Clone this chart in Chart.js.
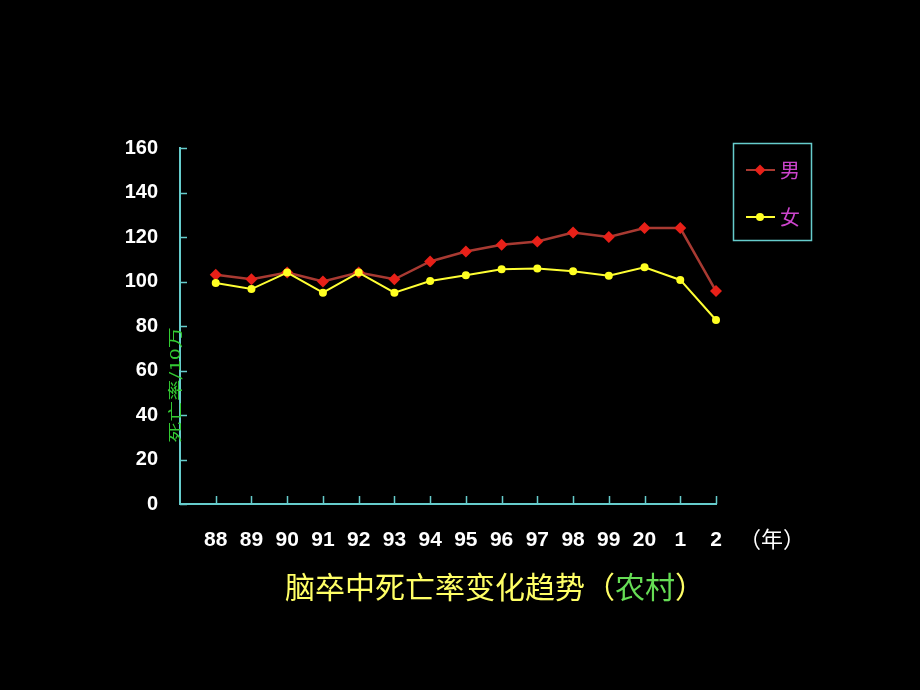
<!DOCTYPE html>
<html>
<head>
<meta charset="utf-8">
<script src="https://cdn.jsdelivr.net/npm/chart.js@4"></script>
<style>
    html, body { margin: 0; padding: 0; background: #000; }
    #wrap { position: relative; width: 920px; height: 690px; }
    #title {
        position: absolute; left: 0; width: 990px; top: 563px; text-align: center;
        font-family: "Noto Sans CJK SC", sans-serif; font-size: 30px; color: #ffff66;
    }
    #title span { color: #66dd55; }
</style>
</head>
<body>
<div id="wrap">
    <canvas id="myChart" width="920" height="690"></canvas>
    <div id="title">脑卒中死亡率变化趋势（<span>农村</span>）</div>
</div>
<script>
// years on the x axis (first slot left empty like the original)
const years = ['', '88', '89', '90', '91', '92', '93', '94', '95', '96', '97', '98', '99', '20', '1', '2'];
const male = [103, 101, 104, 100, 104, 101, 109, 113.5, 116.5, 118, 122, 120, 124, 124, 95.7];
const female = [99.3, 96.6, 104, 95, 104, 95, 100.2, 102.8, 105.5, 105.8, 104.6, 102.6, 106.4, 100.7, 82.7];
const yTicks = [0, 20, 40, 60, 80, 100, 120, 140, 160];

const axisColor = '#66cccc';

// inward tick marks, legend box, axis title, unit label
const extras = {
    id: 'extras',
    afterDraw(chart) {
        const ctx = chart.ctx;
        const area = chart.chartArea;
        const xs = chart.scales.x;
        const ys = chart.scales.y;
        ctx.save();
        ctx.strokeStyle = axisColor;
        ctx.lineWidth = 1.5;
        ctx.beginPath();
        ys.ticks.forEach((t, i) => {
            const y = Math.round(ys.getPixelForTick(i)) + 0.5;
            ctx.moveTo(area.left, y);
            ctx.lineTo(area.left + 7, y);
        });
        xs.ticks.forEach((t, i) => {
            if (i == 0) return;
            const x = Math.round(xs.getPixelForTick(i)) + 0.5;
            ctx.moveTo(x, area.bottom);
            ctx.lineTo(x, area.bottom - 8);
        });
        ctx.stroke();

        // legend
        ctx.lineWidth = 1.5;
        ctx.strokeRect(733.5, 143.5, 78, 97);
        const rows = [170, 217];
        chart.data.datasets.forEach((ds, i) => {
            const y = rows[ds.legendRow];
            ctx.strokeStyle = ds.borderColor;
            ctx.lineWidth = 2;
            ctx.beginPath();
            ctx.moveTo(746, y);
            ctx.lineTo(775, y);
            ctx.stroke();
            ctx.fillStyle = ds.pointBackgroundColor;
            ctx.beginPath();
            if (ds.pointStyle == 'rectRot') {
                const r = 5.5;
                ctx.moveTo(760, y - r); ctx.lineTo(760 + r, y); ctx.lineTo(760, y + r); ctx.lineTo(760 - r, y);
                ctx.closePath();
            } else {
                ctx.arc(760, y, 4, 0, Math.PI * 2);
            }
            ctx.fill();
            ctx.fillStyle = '#cc44cc';
            ctx.font = '20px "Noto Sans CJK SC"';
            ctx.textBaseline = 'middle';
            ctx.textAlign = 'left';
            ctx.fillText(ds.label, 780, y);
        });

        // y axis title, squeezed like the original
        ctx.save();
        ctx.translate(175, 385);
        ctx.rotate(-Math.PI / 2);
        ctx.scale(1, 0.65);
        ctx.fillStyle = '#33cc33';
        ctx.font = '21px "Noto Sans CJK SC"';
        ctx.textAlign = 'center';
        ctx.textBaseline = 'middle';
        ctx.fillText('死亡率/10万', 0, 0);
        ctx.restore();

        // unit after the last year
        ctx.fillStyle = '#fff';
        ctx.font = '22px "Noto Sans CJK SC"';
        ctx.textAlign = 'center';
        ctx.textBaseline = 'middle';
        ctx.fillText('（年）', 772, 539);
        ctx.restore();
    }
};

new Chart(document.getElementById('myChart').getContext('2d'), {
    type: 'line',
    data: {
        labels: years,
        datasets: [{
            label: '男',
            legendRow: 0,
            data: [null].concat(male),
            borderColor: '#a83a32',
            borderWidth: 2.5,
            pointStyle: 'rectRot',
            pointRadius: 6,
            pointBackgroundColor: '#e82018',
            pointBorderWidth: 0,
            order: 1
        },
        {
            label: '女',
            legendRow: 1,
            data: [null].concat(female),
            borderColor: '#ffff33',
            borderWidth: 2,
            pointStyle: 'circle',
            pointRadius: 4,
            pointBackgroundColor: '#ffff22',
            pointBorderWidth: 0,
            order: 0
        }]
    },
    options: {
        responsive: false,
        devicePixelRatio: 1,
        animation: false,
        layout: { padding: { left: 120, right: 204, top: 148, bottom: 126 } },
        plugins: { legend: { display: false }, tooltip: { enabled: false } },
        scales: {
            x: {
                offset: false,
                afterFit: (scale) => { scale.height = 60; },
                grid: { display: false, drawTicks: false },
                border: { display: true, color: axisColor, width: 2 },
                ticks: {
                    color: '#fff', padding: 24, maxRotation: 0, autoSkip: false,
                    font: { family: '"Liberation Sans", Arial', size: 21, weight: 'bold' }
                }
            },
            y: {
                min: 0,
                max: 160,
                afterFit: (scale) => { scale.width = 60; },
                afterBuildTicks: (scale) => { scale.ticks = yTicks.map(v => ({ value: v })); },
                grid: { display: false, drawTicks: false },
                border: { display: true, color: axisColor, width: 2 },
                ticks: {
                    color: '#fff', padding: 22,
                    font: { family: '"Liberation Sans", Arial', size: 20, weight: 'bold' }
                }
            }
        }
    },
    plugins: [extras]
});
</script>
</body>
</html>
